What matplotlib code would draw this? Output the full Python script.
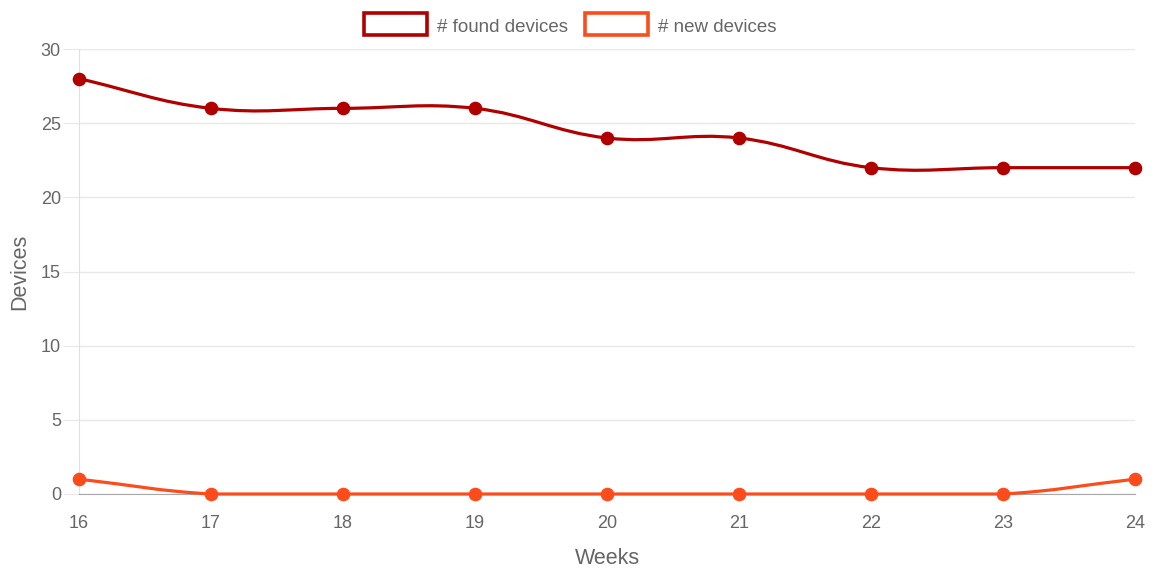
import matplotlib
matplotlib.use("Agg")
import matplotlib.pyplot as plt
from matplotlib.path import Path
from matplotlib.patches import PathPatch, Rectangle
import numpy as np

# data
weeks = [16, 17, 18, 19, 20, 21, 22, 23, 24]
found_devices = [28, 26, 26, 26, 24, 24, 22, 22, 22]
new_devices = [1, 0, 0, 0, 0, 0, 0, 0, 1]

col_found = "#b00000"
col_new = "#fc4c1c"
txt_col = "#666666"

plt.rcParams["font.family"] = ["Liberation Sans", "DejaVu Sans"]

fig = plt.figure(figsize=(11.56, 5.71), dpi=100)
ax = fig.add_axes([79 / 1156, 77 / 571, (1135 - 79) / 1156, (494 - 49) / 571])
ax.set_xlim(16, 24)
ax.set_ylim(0, 30)


def smooth_path(xs, ys, tension=0.4):
    # chart.js style bezier, computed in pixel space, control points kept inside the plot
    pts = ax.transData.transform(np.column_stack([xs, ys]))
    bb = ax.bbox
    n = len(pts)
    verts = [pts[0]]
    codes = [Path.MOVETO]
    cps = []
    for i in range(n):
        p0 = pts[max(i - 1, 0)]
        p1 = pts[i]
        p2 = pts[min(i + 1, n - 1)]
        d01 = np.hypot(*(p1 - p0))
        d12 = np.hypot(*(p2 - p1))
        tot = d01 + d12
        s01 = d01 / tot if tot else 0
        s12 = d12 / tot if tot else 0
        prev_cp = p1 - tension * s01 * (p2 - p0)
        next_cp = p1 + tension * s12 * (p2 - p0)
        for cp in (prev_cp, next_cp):
            cp[0] = min(max(cp[0], bb.x0), bb.x1)
            cp[1] = min(max(cp[1], bb.y0), bb.y1)
        cps.append((prev_cp, next_cp))
    for i in range(1, n):
        verts += [cps[i - 1][1], cps[i][0], pts[i]]
        codes += [Path.CURVE4] * 3
    verts = ax.transData.inverted().transform(np.array(verts))
    return Path(verts, codes)


# grid
ax.set_yticks(range(0, 31, 5))
ax.set_xticks(weeks)
ax.grid(axis="y", color="#e8e8e8", linewidth=1)
ax.set_axisbelow(True)
for s in ["top", "right"]:
    ax.spines[s].set_visible(False)
ax.spines["left"].set_color("#e0e0e0")
ax.spines["bottom"].set_color("#a8a8a8")
ax.tick_params(axis="y", length=11.5, color="#e8e8e8", pad=1.5, labelsize=13, labelcolor=txt_col)
ax.tick_params(axis="x", length=0, pad=15, labelsize=13, labelcolor=txt_col)

for ys, c in [(found_devices, col_found), (new_devices, col_new)]:
    ax.add_patch(PathPatch(smooth_path(weeks, ys), facecolor="none", edgecolor=c,
                           linewidth=2.3, clip_on=False, zorder=3))
    ax.plot(weeks, ys, "o", color=c, ms=8.8, clip_on=False, zorder=4)

ax.set_xlabel("Weeks", fontsize=15.5, color=txt_col)
ax.set_ylabel("Devices", fontsize=15.5, color=txt_col)
ax.xaxis.set_label_coords(0.5, (494 - 558) / 445)
ax.yaxis.set_label_coords((20 - 79) / 1056, 0.5)
ax.xaxis.label.set_va("center")
ax.yaxis.label.set_va("center")

# legend at top
for x0, c, label in [(364, col_found, "# found devices"), (585, col_new, "# new devices")]:
    fig.patches.append(Rectangle((x0 / 1156, 1 - 35 / 571), 63 / 1156, 22 / 571,
                                 transform=fig.transFigure, facecolor="white",
                                 edgecolor=c, linewidth=2.6))
    fig.text((x0 + 73) / 1156, 1 - 28 / 571, label, fontsize=13.5, color=txt_col,
             va="center", ha="left")

fig.savefig("out.png", dpi=100)
